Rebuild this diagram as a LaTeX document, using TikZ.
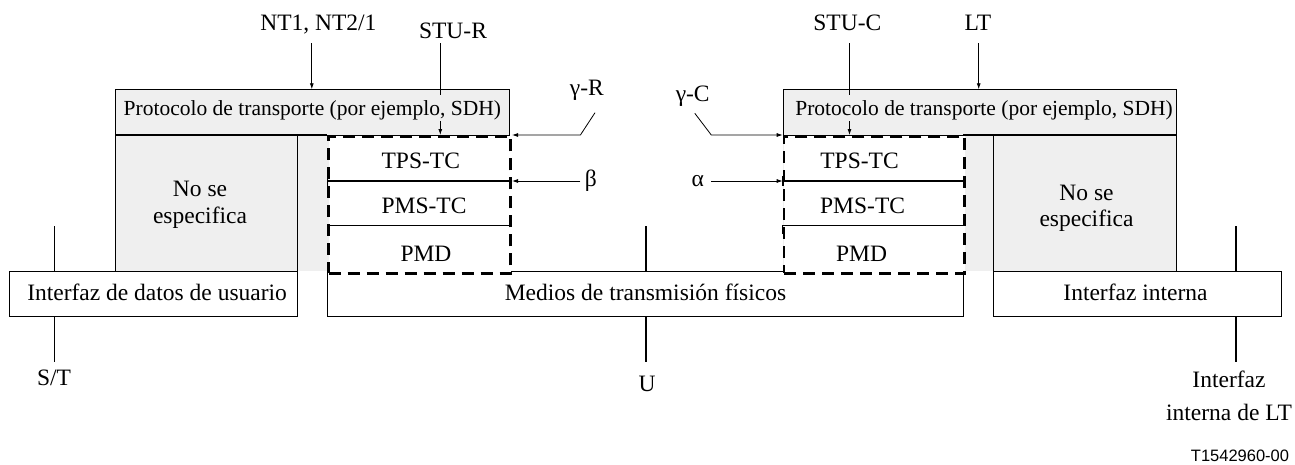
\documentclass[tikz,border=0pt]{standalone}
\usepackage{fontspec}
\setmainfont{Liberation Serif}
\newfontfamily\codefont{Liberation Sans}
\usetikzlibrary{arrows.meta}
\definecolor{boxgray}{HTML}{EFEFEF}
\begin{document}
\begin{tikzpicture}[x=1pt,y=-1pt,
  every node/.style={inner sep=0pt},
  txt/.style={font=\fontsize{23.5}{28}\selectfont, anchor=base},
  ptxt/.style={font=\fontsize{21.5}{26}\selectfont, anchor=base},
  box/.style={draw, line width=0.9pt, anchor=north west},
  dbox/.style={draw, dash pattern=on 12pt off 7pt, line width=2.7pt, anchor=north west, fill=white},
  arr/.style={-{Latex[length=6pt,width=4pt]}, line width=0.8pt},
  ln/.style={line width=0.9pt},
  vln/.style={line width=1.2pt},
  divline/.style={line width=1.6pt}]
\useasboundingbox (0,0) rectangle (1295,464);

% gray backgrounds
\fill[boxgray] (115.3,89.3) rectangle (509.3,270.7);
\fill[boxgray] (782.7,89.3) rectangle (1175.7,270.7);

% transport boxes
\node[box, minimum width=394pt, minimum height=45.7pt] (tL) at (115.3,89.3) {};
\node[box, minimum width=393pt, minimum height=45.7pt] (tR) at (782.7,89.3) {};

% "No se especifica" boxes
\node[box, minimum width=182pt, minimum height=135.7pt] (nL) at (115.3,135) {};
\node[box, minimum width=182.4pt, minimum height=135.7pt] (nR) at (993.3,135) {};

% bottom boxes
\node[box, minimum width=288.2pt, minimum height=45pt] (iL) at (9.1,270.7) {};
\node[box, minimum width=636pt, minimum height=45pt] (mB) at (327.3,270.7) {};
\node[box, minimum width=287.3pt, minimum height=45pt] (iR) at (993.3,270.7) {};

% thicker lines under transport boxes
\draw[divline] (115.3,135) -- (327.3,135);
\draw[divline] (963.3,135) -- (1175.7,135);

% dashed boxes
\node[dbox, minimum width=182pt, minimum height=137pt] (dL) at (327.3,135) {};
\node[dbox, minimum width=180.6pt, minimum height=137pt] (dR) at (782.7,135) {};

% dividers left
\draw[divline] (327.3,180.7) -- (509.3,180.7);
\draw[divline] (327.3,175.5) -- (327.3,186);
\draw[line width=1.3pt] (327.3,234) -- (327.3,225.7) -- (509.3,225.7);
% dividers right
\draw[divline] (782.7,180.7) -- (963.3,180.7);
\draw[divline] (782.7,175.5) -- (782.7,186);
\draw[divline] (963.3,175.5) -- (963.3,186);
\draw[line width=1.3pt] (782.7,234) -- (782.7,225.7) -- (963.3,225.7);

% texts
\node[ptxt] (tLt) at (312.4,115) {Protocolo de transporte (por ejemplo, SDH)};
\node[ptxt] (tRt) at (984,115) {Protocolo de transporte (por ejemplo, SDH)};
\node[txt] (nLt1) at (200,196.7) {No se};
\node[txt] (nLt2) at (200,223.3) {especifica};
\node[txt] (nRt1) at (1086.5,200) {No se};
\node[txt] (nRt2) at (1086.5,226.5) {especifica};
\node[txt] (tpsL) at (420.8,168.3) {TPS-TC};
\node[txt] (pmsL) at (424,213.3) {PMS-TC};
\node[txt] (pmdL) at (426,261) {PMD};
\node[txt] (tpsR) at (859.5,168.3) {TPS-TC};
\node[txt] (pmsR) at (862.6,213.3) {PMS-TC};
\node[txt] (pmdR) at (861.6,261) {PMD};
\node[txt] (iLt) at (157.1,300) {Interfaz de datos de usuario};
\node[txt] (mBt) at (645.5,300) {Medios de transmisión físicos};
\node[txt] (iRt) at (1135.5,300) {Interfaz interna};

% top labels
\node[txt] (nt) at (318.4,30) {NT1, NT2/1};
\node[txt] (stur) at (453,38.3) {STU-R};
\node[txt] (stuc) at (847.3,30.7) {STU-C};
\node[txt] (lt) at (977.9,30.7) {LT};
\node[txt] (gr) at (586.8,95) {γ-R};
\node[txt] (be) at (590.8,186.5) {β};
\node[txt] (gc) at (692.7,101.7) {γ-C};
\node[txt] (al) at (697.8,186.5) {α};

% bottom labels
\node[txt] (st) at (54,385) {S/T};
\node[txt] (u) at (647,391.7) {U};
\node[txt] (ii1) at (1229,387) {Interfaz};
\node[txt] (ii2) at (1229,420) {interna de LT};
\node[font=\codefont\fontsize{16.5}{19}\selectfont, anchor=base] (code) at (1240,461) {T1542960-00};

% connectors at top
\coordinate (ntA) at (311.8,43.3);
\draw[arr] (ntA) -- (ntA |- tL.north);
\coordinate (ltA) at (978.7,43.3);
\draw[arr] (ltA) -- (ltA |- tR.north);
\coordinate (sr1) at (440.3,43.3);
\coordinate (sr2) at (440.3,95);
\coordinate (sr3) at (440.3,121);
\draw[ln] (sr1) -- (sr2);
\draw[arr] (sr3) -- (sr3 |- dL.north);
\coordinate (sc1) at (849.5,43.3);
\coordinate (sc2) at (849.5,95);
\coordinate (sc3) at (849.5,121);
\draw[ln] (sc1) -- (sc2);
\draw[arr] (sc3) -- (sc3 |- dR.north);

% gamma / beta / alpha
\coordinate (gr1) at (595,112.7);
\coordinate (gr2) at (580.4,135);
\draw[arr] (gr1) -- (gr2) -- (gr2 -| dL.east);
\coordinate (b1) at (580.4,181);
\draw[arr] (b1) -- (b1 -| dL.east);
\coordinate (gc1) at (694.8,113.3);
\coordinate (gc2) at (711.3,135);
\draw[arr] (gc1) -- (gc2) -- (gc2 -| dR.west);
\coordinate (a1) at (711.3,181);
\draw[arr] (a1) -- (a1 -| dR.west);

% reference point lines
\coordinate (st1) at (54.7,226);
\coordinate (st2) at (54.7,361.7);
\draw[vln] (st1) -- (st1 |- iL.north);
\draw[vln] (st2 |- iL.south) -- (st2);
\coordinate (u1) at (646,226);
\coordinate (u2) at (646,361.7);
\draw[vln] (u1) -- (u1 |- mB.north);
\draw[vln] (u2 |- mB.south) -- (u2);
\coordinate (r1) at (1236,226);
\coordinate (r2) at (1236,361.7);
\draw[vln] (r1) -- (r1 |- iR.north);
\draw[vln] (r2 |- iR.south) -- (r2);
\end{tikzpicture}
\end{document}
